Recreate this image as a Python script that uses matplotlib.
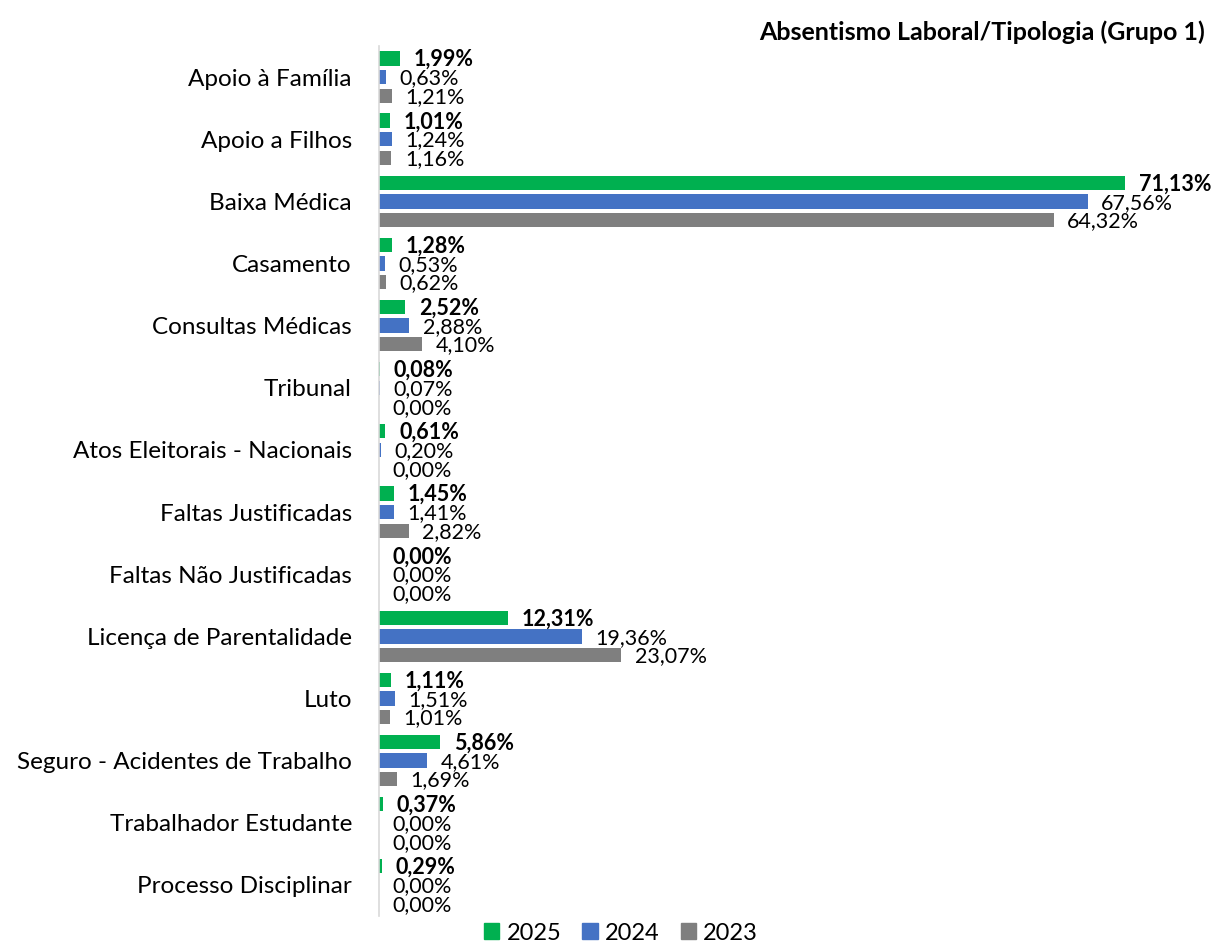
import matplotlib
matplotlib.use("Agg")
import matplotlib.pyplot as plt
import numpy as np
from matplotlib.patches import Patch

plt.rcParams['font.family'] = ['Lato', 'DejaVu Sans']

categories = ["Apoio à Família", "Apoio a Filhos", "Baixa Médica", "Casamento",
              "Consultas Médicas", "Tribunal", "Atos Eleitorais - Nacionais",
              "Faltas Justificadas", "Faltas Não Justificadas",
              "Licença de Parentalidade", "Luto", "Seguro - Acidentes de Trabalho",
              "Trabalhador Estudante", "Processo Disciplinar"]
v2025 = [1.99, 1.01, 71.13, 1.28, 2.52, 0.08, 0.61, 1.45, 0.00, 12.31, 1.11, 5.86, 0.37, 0.29]
v2024 = [0.63, 1.24, 67.56, 0.53, 2.88, 0.07, 0.20, 1.41, 0.00, 19.36, 1.51, 4.61, 0.00, 0.00]
v2023 = [1.21, 1.16, 64.32, 0.62, 4.10, 0.00, 0.00, 2.82, 0.00, 23.07, 1.01, 1.69, 0.00, 0.00]
series = [("2025", v2025, "#00B050", True),
          ("2024", v2024, "#4472C4", False),
          ("2023", v2023, "#7F7F7F", False)]

W, H = 1217, 944
fig = plt.figure(figsize=(W/100, H/100), dpi=100)
px_per = 10.49
xmax = 80
left = 379
top = 46
bottom = 916
ax = fig.add_axes([left/W, 1 - bottom/H, xmax*px_per/W, (bottom-top)/H])

n = len(categories)
y = np.arange(n)
step = 0.3
h = 0.23
for i, (name, vals, col, bold) in enumerate(series):
    yy = y + (i - 1) * step
    ax.barh(yy, vals, height=h, color=col, label=name)
    for yv, v in zip(yy, vals):
        ax.text(v + 1.3, yv + 0.02, f"{v:.2f}%".replace(".", ","), va="center", ha="left",
                fontsize=15.5, fontweight="bold" if bold else "normal", color="black")

ax.set_ylim(n - 0.5, -0.5)
ax.set_xlim(0, xmax)
ax.set_yticks(y)
ax.set_yticklabels(categories, fontsize=17.5)
ax.tick_params(axis="y", length=0, pad=19.5)
ax.set_xticks([])
for s in ["top", "right", "bottom"]:
    ax.spines[s].set_visible(False)
ax.spines["left"].set_color("#D9D9D9")
ax.spines["left"].set_linewidth(1.2)

fig.text(1205/W, 1 - 32/H, "Absentismo Laboral/Tipologia (Grupo 1)", ha="right", va="center",
         fontsize=18, fontweight="bold")

handles = [Patch(color=c, label=nm) for nm, _, c, _ in series]
fig.legend(handles=handles, loc="center", bbox_to_anchor=(621/W, 1 - 933/H), ncol=3,
           frameon=False, fontsize=17, handlelength=0.65, handleheight=0.65,
           handletextpad=0.3, columnspacing=0.9, borderpad=0.1)

fig.savefig("out.png", dpi=100)
